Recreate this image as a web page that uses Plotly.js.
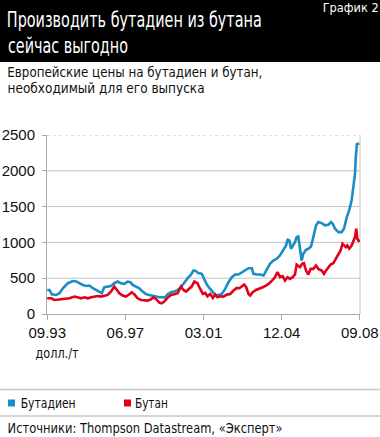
<!DOCTYPE html>
<html>
<head>
<meta charset="utf-8">
<script src="https://cdn.plot.ly/plotly-3.0.1.min.js"></script>
<style>
html,body{margin:0;padding:0;background:#fff;}
#chart{width:380px;height:437px;}
</style>
</head>
<body>
<div id="chart"></div>
<script>
// ---- data (decimal years, USD per tonne) ----
const butadieneDates = [1993.67,1993.78,1993.89,1994.10,1994.26,1994.42,1994.66,1994.90,1995.06,1995.22,1995.38,1995.54,1995.70,1995.86,1996.02,1996.18,1996.29,1996.41,1996.57,1996.73,1996.89,1997.05,1997.21,1997.37,1997.53,1997.66,1997.77,1997.93,1998.09,1998.25,1998.41,1998.57,1998.73,1998.89,1999.05,1999.21,1999.32,1999.45,1999.61,1999.77,1999.93,2000.09,2000.25,2000.41,2000.56,2000.69,2000.80,2000.92,
2001.01,2001.09,2001.20,2001.33,2001.49,2001.65,2001.81,2001.94,2002.05,2002.21,2002.37,2002.53,2002.69,2002.85,2003.01,2003.17,2003.33,2003.49,2003.57,2003.73,2003.89,2004.05,2004.20,2004.36,2004.52,2004.68,2004.84,2005.00,2005.13,2005.21,2005.29,2005.37,2005.45,2005.56,2005.64,2005.72,2005.80,2005.88,2005.96,2006.09,2006.20,2006.33,2006.44,2006.57,2006.68,2006.84,2007.00,2007.16,2007.29,2007.37,2007.48,2007.64,2007.80,2007.91,2008.04,2008.16,2008.28,2008.36,2008.44,2008.48,2008.53,2008.64];
const butadieneValues = [336,336,275,266,290,360,430,460,455,430,406,392,397,360,336,313,290,374,383,392,430,453,430,420,453,444,406,383,360,313,280,266,252,243,233,233,229,275,303,313,336,374,439,500,546,607,602,570,
570,560,490,411,350,294,257,266,280,350,444,514,551,551,584,607,640,640,560,551,551,537,607,700,747,771,817,897,957,1037,1027,911,957,1004,1074,1083,911,747,841,897,911,943,1074,1238,1284,1270,1238,1247,1284,1261,1191,1144,1144,1191,1345,1448,1588,1751,1961,2195,2372,2382];

const butaneDates = [1993.67,1993.86,1994.02,1994.26,1994.50,1994.74,1994.98,1995.14,1995.30,1995.46,1995.62,1995.78,1995.94,1996.10,1996.26,1996.41,1996.57,1996.73,1996.89,1997.02,1997.13,1997.29,1997.45,1997.61,1997.72,1997.85,1998.01,1998.17,1998.33,1998.49,1998.65,1998.76,1998.89,1999.05,1999.16,1999.29,1999.45,1999.61,1999.77,1999.93,2000.09,2000.21,2000.33,2000.49,2000.60,2000.73,2000.88,
2001.01,2001.14,2001.25,2001.36,2001.49,2001.62,2001.73,2001.84,2001.97,2002.13,2002.29,2002.45,2002.61,2002.77,2002.90,2003.01,2003.12,2003.22,2003.33,2003.41,2003.53,2003.69,2003.85,2004.01,2004.17,2004.33,2004.49,2004.60,2004.72,2004.84,2004.97,2005.08,2005.20,2005.32,2005.45,2005.56,2005.64,2005.72,2005.80,2005.90,2005.99,2006.09,2006.20,2006.31,2006.44,2006.57,2006.68,2006.84,2006.95,2007.05,2007.16,2007.27,2007.40,2007.52,2007.64,2007.75,2007.84,2007.92,2008.00,2008.07,2008.16,2008.28,2008.36,2008.44,2008.50,2008.55,2008.61,2008.64];
const butaneValues = [219,219,196,205,210,219,243,229,219,233,219,233,243,252,243,257,266,313,383,336,290,257,243,275,303,275,219,196,196,187,205,233,210,159,149,173,229,266,275,290,383,336,313,360,383,453,430,
350,280,294,247,280,224,271,233,247,243,271,280,327,364,360,383,411,374,280,257,304,336,350,374,397,430,476,514,584,514,528,467,514,490,514,551,691,677,654,700,710,607,551,630,630,677,630,607,560,607,654,691,710,771,817,887,981,957,934,957,911,957,1027,1074,1191,1051,1027,1004];

const xTickVals = [1993.67,1997.42,2001.17,2004.92,2008.67];
const xTickText = ["09.93","06.97","03.01","12.04","09.08"];
const yTickVals = [0,500,1000,1500,2000,2500];
const seriesNames = ["Бутадиен","Бутан"];
const titleLines = ["Производить бутадиен из бутана","сейчас выгодно"];
const subtitleLines = ["Европейские цены на бутадиен и бутан,","необходимый для его выпуска"];
const chartLabel = "График 2";
const unitLabel = "долл./т";
const sourceText = "Источники: Thompson Datastream, «Эксперт»";

// ---- layout helpers ----
const W = 380, H = 437;
const M = {l:47, r:20, t:135, b:123};
const PW = W - M.l - M.r, PH = H - M.t - M.b;
const px = x => (x - M.l) / PW;
const py = y => (H - M.b - y) / PH;

const BLUE = "#1a8ec4", RED = "#e3001b", GRID = "#c4c4c4";
const FONT = "'DejaVu Sans Condensed','Liberation Sans Narrow','Liberation Sans',sans-serif";
const TICKFONT = "'Liberation Sans',Arial,sans-serif";

const traces = [
  {x: butadieneDates, y: butadieneValues, type:"scatter", mode:"lines", name: seriesNames[0],
   line:{color:BLUE, width:2.6}, hoverinfo:"skip"},
  {x: butaneDates, y: butaneValues, type:"scatter", mode:"lines", name: seriesNames[1],
   line:{color:RED, width:2.6}, hoverinfo:"skip"}
];

const shapes = [
  {type:"rect", xref:"paper", yref:"paper", x0:px(0), x1:px(W), y0:py(62), y1:py(0),
   fillcolor:"#000", line:{width:0}, layer:"below"},
  {type:"line", xref:"paper", yref:"paper", x0:px(0), x1:px(W), y0:py(389.5), y1:py(389.5),
   line:{color:"#c8c8c8", width:1.5}},
  {type:"line", xref:"paper", yref:"paper", x0:px(0), x1:px(W), y0:py(416), y1:py(416),
   line:{color:"#c8c8c8", width:1.5}},
  // legend swatches
  {type:"rect", xref:"paper", yref:"paper", x0:px(8), x1:px(15), y0:py(406.5), y1:py(399.5),
   fillcolor:BLUE, line:{width:0}},
  {type:"rect", xref:"paper", yref:"paper", x0:px(124), x1:px(131), y0:py(406.5), y1:py(399.5),
   fillcolor:RED, line:{width:0}},
  // right frame
  {type:"line", xref:"paper", yref:"y", x0:1, x1:1, y0:0, y1:2500, line:{color:GRID, width:1}, layer:"below"}
];
yTickVals.forEach(v => {
  if (v > 0) shapes.push({type:"line", xref:"paper", yref:"y", x0:0, x1:1, y0:v, y1:v,
    line:{color:GRID, width:1, dash: v === 2500 ? "dot" : "solid"}, layer:"below"});
});

// texts: centre x, centre y, font size, colour, target width (condensed face)
const textSpecs = [
  {text:titleLines[0],    cx:134.5, cy:19.5, size:21, color:"#fff", w:255},
  {text:titleLines[1],    cx:68,    cy:46,  size:21, color:"#fff", w:120},
  {text:chartLabel,       cx:350,   cy:7.5, size:12.5, color:"#fff", w:56},
  {text:subtitleLines[0], cx:134.5, cy:72,  size:14.5, color:"#111", w:255},
  {text:subtitleLines[1], cx:105.5, cy:88,  size:14.5, color:"#111", w:197},
  {text:unitLabel,        cx:57,    cy:353, size:14, color:"#111", w:43},
  {text:seriesNames[0],   cx:47.5,  cy:403, size:14.5, color:"#111", w:55},
  {text:seriesNames[1],   cx:151.5, cy:403, size:14.5, color:"#111", w:33},
  {text:sourceText,       cx:144.5, cy:428, size:14.5, color:"#111", w:275}
];

const annotations = textSpecs.map(s => ({
  text:s.text, xref:"paper", yref:"paper", x:px(s.cx), y:py(s.cy), xanchor:"center", yanchor:"middle",
  showarrow:false, font:{family:FONT, size:s.size, color:s.color}
}));

const layout = {
  width: W, height: H,
  margin: M,
  paper_bgcolor:"#fff", plot_bgcolor:"#fff",
  showlegend:false,
  xaxis:{
    range:[1993.66, 2008.68], tickmode:"array", tickvals:xTickVals, ticktext:xTickText,
    showgrid:false, zeroline:false, showline:true, linecolor:"#aaa", linewidth:1,
    ticks:"outside", ticklen:5, tickcolor:"#aaa",
    tickfont:{family:TICKFONT, size:15, color:"#111"}, fixedrange:true
  },
  yaxis:{
    range:[0, 2500], tickmode:"array", tickvals:yTickVals,
    showgrid:false, zeroline:false, showline:true, linecolor:"#aaa", linewidth:1,
    ticks:"outside", ticklen:4, tickcolor:"#aaa", ticklabelstandoff:4,
    tickfont:{family:TICKFONT, size:15, color:"#111"}, fixedrange:true
  },
  shapes, annotations
};

Plotly.newPlot("chart", traces, layout, {staticPlot:true, displayModeBar:false}).then(gd => {
  // emulate the condensed typeface of the original by fitting each text to its width
  gd.querySelectorAll("g.annotation").forEach(g => {
    const i = +g.getAttribute("data-index");
    const t = g.querySelector("text.annotation-text");
    if (t && textSpecs[i]) {
      t.setAttribute("textLength", textSpecs[i].w);
      t.setAttribute("lengthAdjust", "spacingAndGlyphs");
    }
  });
});
</script>
</body>
</html>
